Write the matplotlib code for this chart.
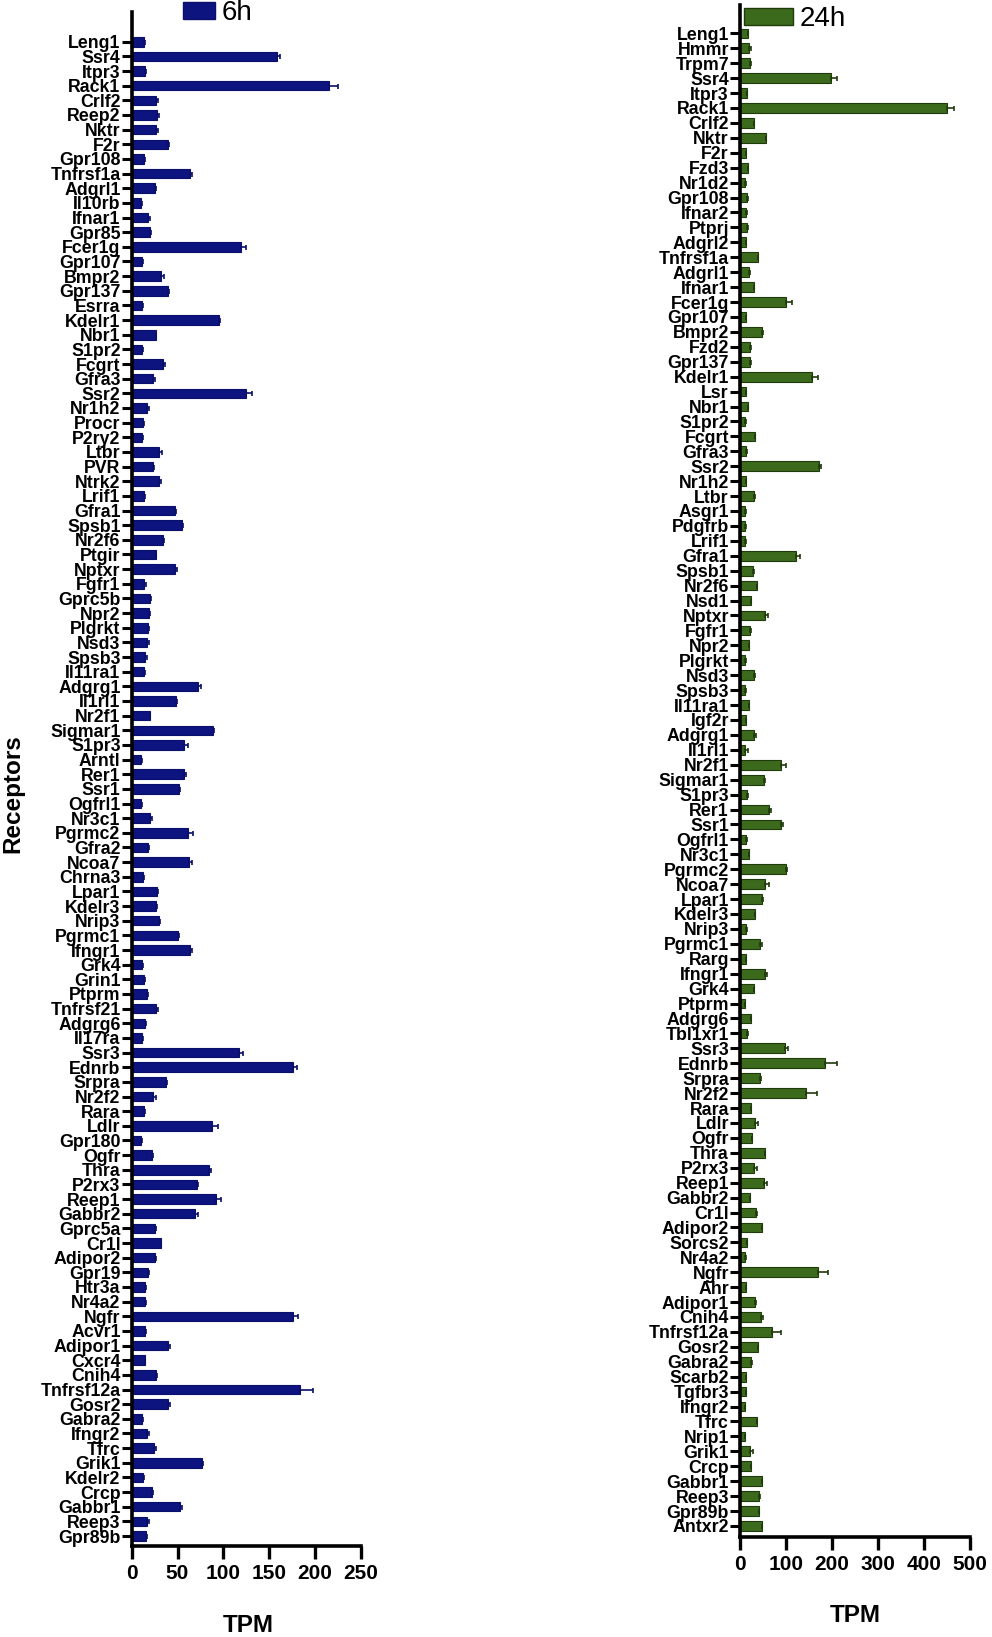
import matplotlib
matplotlib.use("Agg")
import matplotlib.pyplot as plt
from matplotlib.patches import Patch
import numpy as np

# 6h receptors (top to bottom), TPM means and SEM
genes_6h = ["Leng1", "Ssr4", "Itpr3", "Rack1", "Crlf2", "Reep2", "Nktr", "F2r", "Gpr108", "Tnfrsf1a",
            "Adgrl1", "Il10rb", "Ifnar1", "Gpr85", "Fcer1g", "Gpr107", "Bmpr2", "Gpr137", "Esrra", "Kdelr1",
            "Nbr1", "S1pr2", "Fcgrt", "Gfra3", "Ssr2", "Nr1h2", "Procr", "P2ry2", "Ltbr", "PVR",
            "Ntrk2", "Lrif1", "Gfra1", "Spsb1", "Nr2f6", "Ptgir", "Nptxr", "Fgfr1", "Gprc5b", "Npr2",
            "Plgrkt", "Nsd3", "Spsb3", "Il11ra1", "Adgrg1", "Il1rl1", "Nr2f1", "Sigmar1", "S1pr3", "Arntl",
            "Rer1", "Ssr1", "Ogfrl1", "Nr3c1", "Pgrmc2", "Gfra2", "Ncoa7", "Chrna3", "Lpar1", "Kdelr3",
            "Nrip3", "Pgrmc1", "Ifngr1", "Grk4", "Grin1", "Ptprm", "Tnfrsf21", "Adgrg6", "Il17ra", "Ssr3",
            "Ednrb", "Srpra", "Nr2f2", "Rara", "Ldlr", "Gpr180", "Ogfr", "Thra", "P2rx3", "Reep1",
            "Gabbr2", "Gprc5a", "Cr1l", "Adipor2", "Gpr19", "Htr3a", "Nr4a2", "Ngfr", "Acvr1", "Adipor1",
            "Cxcr4", "Cnih4", "Tnfrsf12a", "Gosr2", "Gabra2", "Ifngr2", "Tfrc", "Grik1", "Kdelr2", "Crcp",
            "Gabbr1", "Reep3", "Gpr89b"]
tpm_6h = [13, 159, 14.5, 215, 26, 27.5, 26, 39.5, 13, 64,
          25, 10.5, 18, 20, 119.5, 11, 32, 39.5, 11.5, 95,
          26, 11, 34, 23, 125, 17, 12.5, 11, 30, 23,
          29.5, 13, 47, 55, 34, 26, 47, 13.5, 20, 19,
          18, 17, 14.5, 13, 72, 48.5, 19.5, 89, 57, 10,
          57, 51.5, 10.5, 20, 61.5, 18, 62.5, 12.5, 27.5, 27,
          29.5, 50, 63.5, 11, 13.5, 17, 27, 14.5, 11, 117,
          176, 37, 23.5, 13.5, 88, 10, 22, 84, 71, 91.5,
          69.5, 25, 31.5, 25, 18, 14.5, 15, 176.5, 15, 40,
          14, 26, 184, 40, 11.5, 17, 24, 77, 12.5, 22,
          52.5, 17, 15.5]
sem_6h = [1, 3, 1, 10, 3, 2, 3, 1, 1, 2,
          2, 1, 1.5, 1.5, 5.5, 1, 3.5, 1, 1, 1.5,
          1, 1, 2.5, 2, 6.5, 1.5, 1, 1, 3, 1.5,
          2, 1, 1, 1, 1, 1, 2.5, 2.5, 1, 1,
          1, 1.5, 2, 2, 3.5, 1, 1, 1, 5, 1,
          2, 1, 1, 2.5, 5, 1, 3, 1, 1, 1,
          1, 2, 2, 1, 1, 1, 1.5, 1, 1, 4.5,
          4, 1, 2.5, 1.5, 6.5, 1, 1, 3, 1.5, 5.5,
          3, 1, 1, 2, 1, 1, 1, 5.5, 1, 1.5,
          1, 2, 14, 2, 1, 2, 2, 1, 1, 1,
          2.5, 1.5, 1]

# 24h receptors
genes_24h = ["Leng1", "Hmmr", "Trpm7", "Ssr4", "Itpr3", "Rack1", "Crlf2", "Nktr", "F2r", "Fzd3",
             "Nr1d2", "Gpr108", "Ifnar2", "Ptprj", "Adgrl2", "Tnfrsf1a", "Adgrl1", "Ifnar1", "Fcer1g", "Gpr107",
             "Bmpr2", "Fzd2", "Gpr137", "Kdelr1", "Lsr", "Nbr1", "S1pr2", "Fcgrt", "Gfra3", "Ssr2",
             "Nr1h2", "Ltbr", "Asgr1", "Pdgfrb", "Lrif1", "Gfra1", "Spsb1", "Nr2f6", "Nsd1",
             "Nptxr", "Fgfr1", "Npr2", "Plgrkt", "Nsd3", "Spsb3", "Il11ra1", "Igf2r", "Adgrg1", "Il1rl1",
             "Nr2f1", "Sigmar1", "S1pr3", "Rer1", "Ssr1", "Ogfrl1", "Nr3c1", "Pgrmc2", "Ncoa7", "Lpar1",
             "Kdelr3", "Nrip3", "Pgrmc1", "Rarg", "Ifngr1", "Grk4", "Ptprm", "Adgrg6", "Tbl1xr1", "Ssr3",
             "Ednrb", "Srpra", "Nr2f2", "Rara", "Ldlr", "Ogfr", "Thra", "P2rx3", "Reep1", "Gabbr2",
             "Cr1l", "Adipor2", "Sorcs2", "Nr4a2", "Ngfr", "Ahr", "Adipor1", "Cnih4", "Tnfrsf12a", "Gosr2",
             "Gabra2", "Scarb2", "Tgfbr3", "Ifngr2", "Tfrc", "Nrip1", "Grik1", "Crcp", "Gabbr1", "Reep3",
             "Gpr89b", "Antxr2"]
tpm_24h = [16.5, 20, 22, 197.5, 14.5, 452, 30.5, 56.5, 12.5, 17.5,
           11.5, 16, 14, 15.5, 13, 38.5, 20.5, 30.5, 100, 12,
           48.5, 22, 22.5, 157.5, 13, 16.5, 11.5, 32.5, 14, 172,
           12.5, 31, 11.5, 11.5, 11.5, 121, 27.5, 36.5, 24,
           54.5, 22.5, 19.5, 11, 31, 11.5, 19, 13, 31, 11.5,
           90, 52.5, 15.5, 63, 88.5, 13, 19, 99.5, 53.5, 48.5,
           32.5, 14, 43.5, 13, 55, 30, 10, 24, 15.5, 97.5,
           185, 44.5, 143, 23, 32, 25.5, 53.5, 30.5, 51.5, 21,
           35, 48, 14.5, 11.5, 170.5, 12.5, 33.5, 46.5, 69.5, 39,
           23, 13, 13, 10, 36.5, 10, 22, 23, 47, 42,
           40.5, 47]
sem_24h = [1, 3, 1, 13, 1, 15, 1, 1, 1, 1,
           1, 1, 1, 1, 1, 1, 1, 1, 12.5, 1,
           1, 1, 1, 13, 1, 1, 1, 1, 1, 5,
           1, 1, 1, 1, 1, 9.5, 2, 1, 1,
           6, 1, 1, 1, 1, 1, 1, 1, 4, 6.5,
           11, 1, 1, 5, 4.5, 1.5, 1, 3, 9.5, 1,
           1, 1.5, 5, 1, 4.5, 1.5, 1, 1, 1, 7,
           27, 1, 24, 1, 6.5, 1, 2, 5.5, 8, 1,
           1, 1, 1, 1, 21, 1, 1, 4.5, 19, 1,
           3, 1, 1, 1, 1, 1, 7, 1, 2, 1,
           1, 1]

plt.rcParams["font.family"] = ["Liberation Sans", "DejaVu Sans"]
plt.rcParams["font.weight"] = "bold"

W, H = 992, 1637
fig = plt.figure(figsize=(W / 100, H / 100), dpi=100)


def panel(rect, genes, vals, errs, color, edge, xmax, xticks, ytop, ybot):
    ax = fig.add_axes(rect)
    y = np.arange(len(genes))
    ax.barh(y, vals, height=0.65, color=color, edgecolor=edge, linewidth=0.8, zorder=2)
    ax.errorbar(vals, y, xerr=[np.zeros(len(vals)), errs], fmt="none",
                ecolor=edge, elinewidth=1.2, capsize=1.8, capthick=1.2, zorder=3)
    ax.set_yticks(y)
    ax.set_yticklabels(genes, fontsize=12.8, fontweight="bold")
    ax.set_ylim(len(genes) - 1 + ybot, ytop)
    ax.set_xlim(0, xmax)
    ax.set_xticks(xticks)
    ax.set_xticklabels([str(t) for t in xticks], fontsize=15, fontweight="bold")
    for s in ["top", "right"]:
        ax.spines[s].set_visible(False)
    for s in ["left", "bottom"]:
        ax.spines[s].set_linewidth(2.6)
    ax.tick_params(axis="y", length=7, width=2.2, pad=1)
    ax.tick_params(axis="x", length=9, width=2.4, pad=4)
    return ax


ax1 = panel([131.7 / W, 1 - 1546 / H, 229 / W, 1534 / H], genes_6h, tpm_6h, sem_6h,
            "#0d1480", "#0a0f6a", 250, [0, 50, 100, 150, 200, 250], -2.03, 0.68)
ax2 = panel([740 / W, 1 - 1536.7 / H, 229.5 / W, 1531.7 / H], genes_24h, tpm_24h, sem_24h,
            "#3c6a1c", "#1f3a0b", 500, [0, 100, 200, 300, 400, 500], -1.9, 0.72)

fig.text(13 / W, 1 - 794 / H, "Receptors", rotation=90, fontsize=17.5,
         fontweight="bold", ha="center", va="center")
fig.text(248 / W, 1 - 1625 / H, "TPM", fontsize=17.5, fontweight="bold", ha="center", va="center")
fig.text(855 / W, 1 - 1615 / H, "TPM", fontsize=17.5, fontweight="bold", ha="center", va="center")

fig.legend(handles=[Patch(facecolor="#0d1480", edgecolor="#0a0f6a")], labels=["6h"],
           loc="center left", bbox_to_anchor=(183 / W, 1 - 13 / H), frameon=False,
           prop={"size": 20, "weight": "normal"}, handlelength=1.15, handleheight=0.55,
           handletextpad=0.25, borderpad=0, borderaxespad=0)
fig.legend(handles=[Patch(facecolor="#3c6a1c", edgecolor="#1f3a0b")], labels=["24h"],
           loc="center left", bbox_to_anchor=(744 / W, 1 - 19 / H), frameon=False,
           prop={"size": 20, "weight": "normal"}, handlelength=1.75, handleheight=0.55,
           handletextpad=0.25, borderpad=0, borderaxespad=0)

fig.savefig("out.png", dpi=100)
